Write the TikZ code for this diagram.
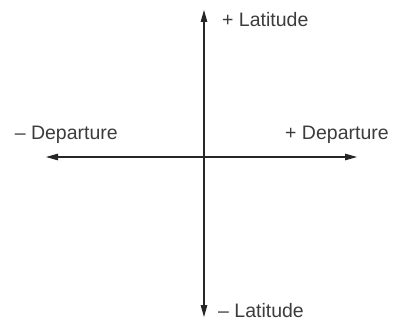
\documentclass[tikz,border=0pt]{standalone}
\usepackage{fontspec}
\setmainfont{Liberation Sans}
\usetikzlibrary{arrows.meta}
\definecolor{txt}{HTML}{3C3C3C}
\tikzset{
  axis/.style={line width=1.1pt, draw=black!85, {Triangle[length=12pt,width=6.5pt]}-{Triangle[length=12pt,width=6.5pt]}},
  lbl/.style={inner sep=0pt, text=txt, font=\fontsize{19.5}{22}\selectfont}
}
\begin{document}
\begin{tikzpicture}[x=1pt,y=1pt]
\useasboundingbox (0,0) rectangle (396,324);
\coordinate (top) at (204,314);
\coordinate (bottom) at (204,7);
\coordinate (left) at (46,167);
\coordinate (right) at (357,167);
\draw[axis] (bottom) -- (top);
\draw[axis] (left) -- (right);
\node[lbl, anchor=base west] (plat) at (222,297) {+ Latitude};
\node[lbl, anchor=base west] (mlat) at (218,7) {– Latitude};
\node[lbl, anchor=base east] (mdep) at (118,184) {– Departure};
\node[lbl, anchor=base west] (pdep) at (285,184) {+ Departure};
\end{tikzpicture}
\end{document}
